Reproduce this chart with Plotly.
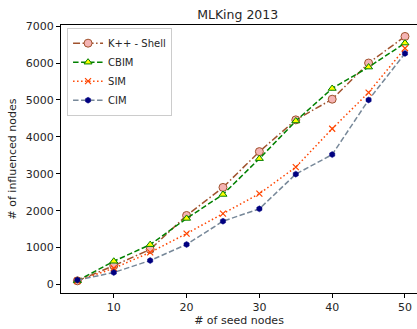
import plotly.graph_objects as go

seeds = [5, 10, 15, 20, 25, 30, 35, 40, 45, 50]
kpp_shell = [100, 510, 950, 1870, 2630, 3600, 4460, 5020, 6000, 6720]
cbim = [100, 630, 1080, 1790, 2440, 3410, 4430, 5310, 5890, 6540]
sim = [100, 440, 870, 1380, 1920, 2460, 3180, 4220, 5200, 6400]
cim = [120, 325, 650, 1085, 1715, 2050, 2990, 3520, 5000, 6260]

font = dict(family="DejaVu Sans", size=11, color="#262626")

fig = go.Figure()
fig.add_trace(go.Scatter(
    x=seeds, y=kpp_shell, name="K++ - Shell", mode="lines+markers",
    line=dict(color="#a0522d", width=1.5, dash="7px,2.5px,1.5px,2.5px"),
    marker=dict(symbol="circle", size=8, color="#f4b4b4", line=dict(color="#a0522d", width=1))))
fig.add_trace(go.Scatter(
    x=seeds, y=cbim, name="CBIM", mode="lines+markers",
    line=dict(color="#008000", width=1.5, dash="5.5px,2.5px"),
    marker=dict(symbol="triangle-up", size=7, color="#ffff00", line=dict(color="#008000", width=1))))
fig.add_trace(go.Scatter(
    x=seeds, y=sim, name="SIM", mode="lines+markers",
    line=dict(color="#ff4500", width=1.5, dash="1.5px,2.5px"),
    marker=dict(symbol="x-thin", size=6, color="#ff4500", line=dict(color="#ff4500", width=1.2))))
fig.add_trace(go.Scatter(
    x=seeds, y=cim, name="CIM", mode="lines+markers",
    line=dict(color="#778899", width=1.5, dash="5.5px,2.5px"),
    marker=dict(symbol="hexagon", size=6, color="#000080", line=dict(color="#000080", width=0.5))))

axis_common = dict(showline=True, linecolor="black", linewidth=1, mirror=True,
                   ticks="outside", ticklen=4, tickcolor="black", showgrid=False,
                   zeroline=False, tickfont=font)

fig.update_layout(
    width=417, height=329,
    margin=dict(l=61, r=0, t=25, b=36),
    paper_bgcolor="white", plot_bgcolor="white",
    font=font,
    title=dict(text="MLKing 2013", x=0.57, xanchor="center", y=0.957, yanchor="middle",
               font=dict(family="DejaVu Sans", size=12.5, color="#262626")),
    xaxis=dict(range=[2.75, 51.65], tickvals=[10, 20, 30, 40, 50],
               title=dict(text="# of seed nodes", standoff=2, font=font), **axis_common),
    yaxis=dict(range=[-230, 7030], tickvals=[0, 1000, 2000, 3000, 4000, 5000, 6000, 7000],
               title=dict(text="# of influenced nodes", standoff=6, font=font), **axis_common),
    legend=dict(x=0.017, y=0.99, xanchor="left", yanchor="top",
                bordercolor="#cccccc", borderwidth=1, bgcolor="rgba(255,255,255,0.8)",
                font=dict(family="DejaVu Sans", size=10, color="#262626"),
                tracegroupgap=0, itemwidth=30),
    showlegend=True,
)

fig.write_html("out.html", config={"displayModeBar": False},
               post_script="document.body.style.margin='0';document.body.style.padding='0';")
